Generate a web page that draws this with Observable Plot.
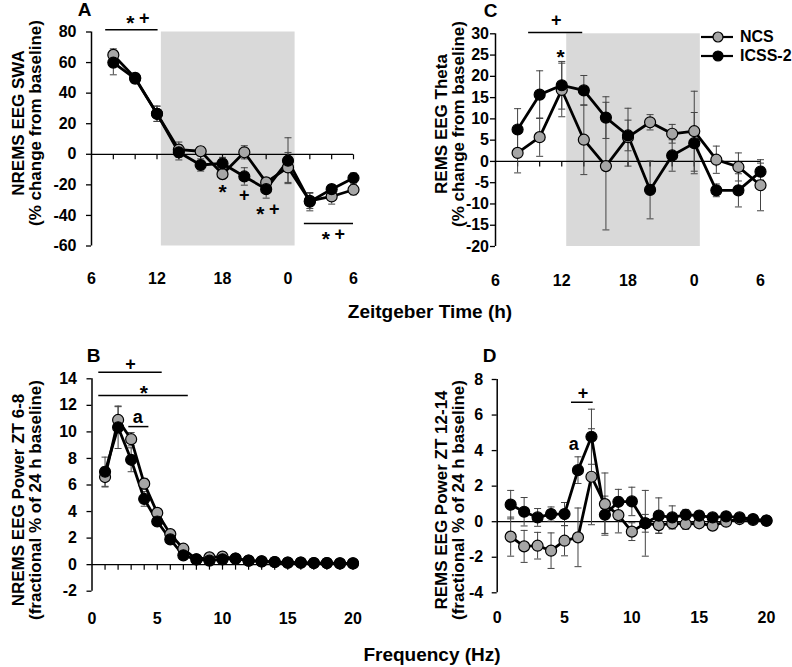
<!DOCTYPE html>
<html><head><meta charset="utf-8">
<script src="https://cdn.jsdelivr.net/npm/d3@7"></script>
<script src="https://cdn.jsdelivr.net/npm/@observablehq/plot@0.6"></script>
<style>
body{margin:0;background:#fff;}
#root{position:relative;width:792px;height:667px;font-family:"Liberation Sans",Arial,sans-serif;font-weight:bold;color:#000;overflow:hidden;}
.panel{position:absolute;}
.xtitle{position:absolute;font-size:19px;transform:translate(-50%,-50%);white-space:nowrap;}
.ytitle{position:absolute;font-size:17px;line-height:17px;text-align:center;white-space:nowrap;transform:translate(-50%,-50%) rotate(-90deg);}
.legend{position:absolute;left:700px;top:27px;font-size:16px;}
.legend .row{display:flex;align-items:center;height:19.5px;}
.legend svg{margin-right:6px;}
</style></head><body><div id="root"></div>
<script>
// ---------- data ----------
const seriesNames = ["NCS", "ICSS-2"];
const seriesFill = ["#a6a6a6", "#000000"];

// Panel A: NREMS SWA vs Zeitgeber time
const zt = [8, 10, 12, 14, 16, 18, 20, 22, 24, 26, 28, 30];
const ztTicks = [6, 12, 18, 24, 30];
const ztMinor = [8, 10, 12, 14, 16, 18, 20, 22, 24, 26, 28, 30];
const darkPeriodA = [12.4, 24.65];
const darkPeriodC = [12.45, 24.55];
const swaNCS  = [65, 50, 26.5, 3, 2, -13, 1.3, -18.4, -8.6, -30.5, -27.6, -23.2];
const swaNCSse = [4, 3, 5, 5, 3, 3, 4.3, 3, 9.8, 5, 5, 3.3];
const swaICSS = [60, 49.5, 26.5, 1.3, -7, -6, -14.5, -22.8, -4.2, -31, -22.8, -15.5];
const swaICSSse = [8, 3, 5, 5, 4, 4, 5.7, 5.9, 15, 6, 3, 3.3];
const swaYTicks = [80, 60, 40, 20, 0, -20, -40, -60];

// Panel C: REMS theta
const thetaNCS  = [2.0, 5.7, 16.8, 5.1, -1.1, 5.7, 9.2, 6.5, 7.1, 0.4, -1.3, -5.6];
const thetaNCSse = [4.7, 4.5, 6.3, 8.2, 15, 6.8, 1.8, 2.2, 9.4, 3.2, 3.3, 6];
const thetaICSS = [7.5, 15.7, 17.9, 16.7, 10.3, 6.1, -6.7, 1.4, 4.3, -6.8, -6.8, -2.4];
const thetaICSSse = [4.9, 5.6, 5.6, 3.5, 4.9, 3.6, 6.8, 3.7, 7.2, 1.5, 3.9, 2];
const thetaYTicks = [30, 25, 20, 15, 10, 5, 0, -5, -10, -15, -20];

// Panels B, D: spectra
const hz = [1,2,3,4,5,6,7,8,9,10,11,12,13,14,15,16,17,18,19,20];
const hzTicks = [0, 5, 10, 15, 20];
const nremNCS  = [6.6, 10.9, 9.45, 6.1, 3.9, 2.3, 1.2, 0.4, 0.55, 0.6, 0.45, 0.3, 0.25, 0.2, 0.15, 0.15, 0.12, 0.12, 0.1, 0.1];
const nremNCSse = [0.75, 1.0, 0.5, 0.4, 0.3, 0.25, 0.2, 0.1, 0.1, 0.1, 0.1, 0.05, 0.05, 0.05, 0.05, 0.05, 0.05, 0.05, 0.05, 0.05];
const nremICSS = [7.0, 10.35, 7.9, 4.95, 3.25, 1.9, 0.7, 0.4, 0.3, 0.4, 0.45, 0.3, 0.25, 0.2, 0.15, 0.15, 0.12, 0.12, 0.1, 0.1];
const nremICSSse = [1.1, 1.6, 0.9, 0.55, 0.3, 0.3, 0.2, 0.1, 0.1, 0.1, 0.1, 0.05, 0.05, 0.05, 0.05, 0.05, 0.05, 0.05, 0.05, 0.05];
const nremYTicks = [14, 12, 10, 8, 6, 4, 2, 0, -2];

const remNCS  = [-0.84, -1.39, -1.35, -1.63, -1.07, -0.88, 2.53, 0.99, 0.37, -0.56, -0.09, -0.19, -0.09, -0.13, -0.09, -0.22, 0.0, 0.15, 0.1, 0.06];
const remNCSse = [1.1, 0.9, 0.75, 1.0, 0.85, 1.65, 2.7, 1.75, 1.0, 0.5, 1.85, 0.45, 0.3, 0.3, 0.2, 0.2, 0.15, 0.1, 0.1, 0.1];
const remICSS = [0.96, 0.56, 0.24, 0.43, 0.43, 2.9, 4.78, 0.39, 1.12, 1.14, -0.09, 0.34, 0.24, 0.39, 0.34, 0.24, 0.3, 0.24, 0.15, 0.06];
const remICSSse = [0.8, 0.8, 0.5, 0.4, 0.65, 0.75, 1.55, 1.05, 0.7, 0.8, 0.5, 1.0, 0.65, 0.3, 0.25, 0.2, 0.2, 0.15, 0.1, 0.1];
const remYTicks = [8, 6, 4, 2, 0, -2, -4];

// significance annotations (data coordinates)
const sigBarsA = [{x1: 7.3, x2: 12.1, y: 81.4}, {x1: 25.5, x2: 30, y: -45.3}];
const sigTextA = [{x: 10.2, y: 88.8, t: "*+"}, {x: 28.1, y: -52.5, t: "*+"}, {x: 18, y: -21.8, t: "*"}, {x: 20, y: -27, t: "+"}, {x: 22.1, y: -36.2, t: "*+"}];
const sigBarsC = [{x1: 9.0, x2: 13.9, y: 30.3}];
const sigTextC = [{x: 11.5, y: 33.1, t: "+"}, {x: 11.9, y: 25.7, t: "*"}];
const sigBarsB = [{x1: 0.52, x2: 5.38, y: 14.5}, {x1: 0.52, x2: 7.38, y: 12.74}, {x1: 2.82, x2: 4.36, y: 10.4}];
const sigTextB = [{x: 2.95, y: 15.1, t: "+"}, {x: 3.97, y: 13.27, t: "*"}, {x: 3.5, y: 11.1, t: "a"}];
const sigBarsD = [{x1: 5.52, x2: 7.13, y: 6.72}];
const sigTextD = [{x: 6.38, y: 7.21, t: "+"}, {x: 5.69, y: 4.34, t: "a"}];

// ---------- drawing ----------
const FONT = '"Liberation Sans", Arial, sans-serif';
const tickSym = {draw(ctx) { ctx.moveTo(0, 0); ctx.lineTo(0, 5); }};
const capSym = {draw(ctx) { ctx.moveTo(-3.5, 0); ctx.lineTo(3.5, 0); }};
const rows = (x, m, s) => x.map((v, i) => ({x: v, m: m[i], s: s[i]}));
const root = d3.select("#root");

function panel(c) {
  const marks = [];
  if (c.shade) marks.push(Plot.rect([c.shade], {x1: d => d[0], x2: d => d[1], y1: c.y[0], y2: c.y[1], fill: "#d9d9d9"}));
  marks.push(Plot.ruleY([0], {stroke: "#000", strokeWidth: 1.3}));
  if (c.zeroTicks) marks.push(Plot.dot(c.zeroTicks, {x: d => d, y: 0, symbol: tickSym, stroke: "#000", strokeWidth: 1.2, fill: "none"}));
  marks.push(Plot.ruleX([c.x[0]], {y1: c.y[0], y2: c.y[1], stroke: "#000", strokeWidth: 1.5}));
  marks.push(Plot.axisY({ticks: c.yTicks, tickSize: 5, tickPadding: c.yPad, tickFormat: d => String(d), label: null, fontSize: 16, stroke: "#000", strokeWidth: 1.3}));
  marks.push(Plot.axisX({ticks: c.xTicks, tickSize: 0, tickPadding: c.xPad, tickFormat: c.xFmt, label: null, fontSize: 16}));
  c.series.forEach(s => {
    marks.push(Plot.ruleX(s.d, {x: "x", y1: d => d.m - d.s, y2: d => d.m + d.s, stroke: "#444", strokeWidth: 1}));
    marks.push(Plot.dot(s.d, {x: "x", y: d => d.m + d.s, symbol: capSym, stroke: "#444", strokeWidth: 1, fill: "none"}));
    marks.push(Plot.dot(s.d, {x: "x", y: d => d.m - d.s, symbol: capSym, stroke: "#444", strokeWidth: 1, fill: "none"}));
  });
  c.series.forEach(s => marks.push(Plot.line(s.d, {x: "x", y: "m", stroke: "#000", strokeWidth: 2.8})));
  c.series.forEach(s => marks.push(Plot.dot(s.d, {x: "x", y: "m", r: 5.5, fill: s.fill, stroke: "#000", strokeWidth: 1.2})));
  marks.push(Plot.ruleY(c.bars, {x1: "x1", x2: "x2", y: "y", stroke: "#000", strokeWidth: 1.5}));
  // significance glyphs: each character placed separately so "*" and "+" sit on one centre line
  const glyphs = c.texts.flatMap(d => [...d.t].map((ch, i, a) => ({x: d.x, y: d.y, ch, dx: (i - (a.length - 1) / 2) * 14, dy: ch === "*" ? 5 : 0, fs: ch === "*" ? 21 : 18})));
  d3.groups(glyphs, g => `${g.dx}|${g.dy}|${g.fs}`).forEach(([, arr]) => {
    marks.push(Plot.text(arr, {x: "x", y: "y", text: "ch", dx: arr[0].dx, dy: arr[0].dy, fontSize: arr[0].fs, fontWeight: "bold", fill: "#000", lineAnchor: "middle"}));
  });
  marks.push(Plot.text([c.letter], {frameAnchor: "top-left", dx: c.letterD[0], dy: c.letterD[1], fontSize: 19, fontWeight: "bold", fill: "#000", textAnchor: "middle", lineAnchor: "middle"}));
  const svg = Plot.plot({
    width: c.w, height: c.h,
    marginTop: c.m[0], marginRight: c.m[1], marginBottom: c.m[2], marginLeft: c.m[3],
    x: {domain: c.x}, y: {domain: c.y},
    style: {fontFamily: FONT, fontWeight: "bold", fontSize: "16px", color: "#000", background: "transparent", overflow: "visible"},
    marks
  });
  root.append("div").attr("class", "panel").style("left", c.left + "px").style("top", c.top + "px").node().appendChild(svg);
  const yt = root.append("div").attr("class", "ytitle").style("left", c.ylabelAt[0] + "px").style("top", c.ylabelAt[1] + "px");
  c.ylabel.forEach((line, i) => { if (i) yt.append("br"); yt.append("span").text(line); });
}

const ztFmt = d => String(d % 24);
panel({
  left: 0, top: 0, w: 396, h: 300, m: [31.5, 43, 54.5, 91],
  x: [6, 30], y: [-60, 80], xTicks: ztTicks, xFmt: ztFmt, yTicks: swaYTicks, yPad: 10, xPad: 27,
  shade: darkPeriodA, zeroTicks: ztMinor,
  series: [{d: rows(zt, swaNCS, swaNCSse), fill: seriesFill[0]}, {d: rows(zt, swaICSS, swaICSSse), fill: seriesFill[1]}],
  bars: sigBarsA, texts: sigTextA, letter: "A", letterD: [-7, -22.5],
  ylabel: ["NREMS EEG SWA", "(% change from baseline)"], ylabelAt: [27, 123]
});
panel({
  left: 396, top: 0, w: 396, h: 300, m: [33.3, 32, 54, 99],
  x: [6, 30], y: [-20, 30], xTicks: ztTicks, xFmt: ztFmt, yTicks: thetaYTicks, yPad: 1.5, xPad: 28.5,
  shade: darkPeriodC, zeroTicks: ztMinor,
  series: [{d: rows(zt, thetaNCS, thetaNCSse), fill: seriesFill[0]}, {d: rows(zt, thetaICSS, thetaICSSse), fill: seriesFill[1]}],
  bars: sigBarsC, texts: sigTextC, letter: "C", letterD: [-5, -23.3],
  ylabel: ["REMS EEG Theta", "(% change from baseline)"], ylabelAt: [449.5, 124]
});
panel({
  left: 0, top: 330, w: 396, h: 337, m: [48.3, 43.5, 76.3, 91.5],
  x: [0, 20], y: [-2, 14], xTicks: hzTicks, xFmt: d => String(d), yTicks: nremYTicks, yPad: 10, xPad: 21,
  shade: null, zeroTicks: hz,
  series: [{d: rows(hz, nremNCS, nremNCSse), fill: seriesFill[0]}, {d: rows(hz, nremICSS, nremICSSse), fill: seriesFill[1]}],
  bars: sigBarsB, texts: sigTextB, letter: "B", letterD: [1.5, -23.3],
  ylabel: ["NREMS EEG Power ZT 6-8", "(fractional % of 24 h baseline)"], ylabelAt: [27, 500]
});
panel({
  left: 396, top: 330, w: 396, h: 337, m: [49, 26, 74.7, 100.7],
  x: [0, 20], y: [-4, 8], xTicks: hzTicks, xFmt: d => String(d), yTicks: remYTicks, yPad: 9, xPad: 19,
  shade: null, zeroTicks: null,
  series: [{d: rows(hz, remNCS, remNCSse), fill: seriesFill[0]}, {d: rows(hz, remICSS, remICSSse), fill: seriesFill[1]}],
  bars: sigBarsD, texts: sigTextD, letter: "D", letterD: [-7.7, -24],
  ylabel: ["REMS EEG Power ZT 12-14", "(fractional % of 24 h baseline)"], ylabelAt: [449.5, 500]
});

// shared x titles
root.append("div").attr("class", "xtitle").style("left", "430px").style("top", "312px").text("Zeitgeber Time (h)");
root.append("div").attr("class", "xtitle").style("left", "432px").style("top", "655px").text("Frequency (Hz)");

// legend
const leg = root.append("div").attr("class", "legend");
seriesNames.forEach((name, i) => {
  const row = leg.append("div").attr("class", "row");
  const s = row.append("svg").attr("width", 34).attr("height", 14);
  s.append("line").attr("x1", 1).attr("x2", 33).attr("y1", 7).attr("y2", 7).attr("stroke", "#000").attr("stroke-width", 2.2);
  s.append("circle").attr("cx", 18).attr("cy", 7).attr("r", 5).attr("fill", seriesFill[i]).attr("stroke", "#000").attr("stroke-width", 1.2);
  row.append("span").text(name);
});
</script></body></html>
